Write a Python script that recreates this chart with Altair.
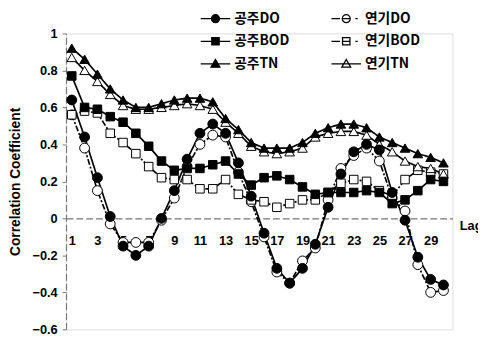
import altair as alt
import pandas as pd

lags = list(range(1, 31))

gongju_do = [0.64, 0.44, 0.22, 0.01, -0.15, -0.20, -0.15, 0.00, 0.15, 0.32,
             0.46, 0.51, 0.46, 0.30, 0.12, -0.08, -0.27, -0.35, -0.27, -0.14,
             0.06, 0.24, 0.36, 0.40, 0.37, 0.14, -0.01, -0.21, -0.33, -0.36]
yeongi_do = [0.56, 0.38, 0.15, -0.03, -0.13, -0.13, -0.13, -0.01, 0.11, 0.28,
             0.40, 0.45, 0.44, 0.25, 0.09, -0.10, -0.29, -0.35, -0.23, -0.16,
             0.10, 0.27, 0.34, 0.38, 0.31, 0.11, 0.04, -0.25, -0.40, -0.39]
gongju_bod = [0.77, 0.60, 0.59, 0.55, 0.52, 0.46, 0.39, 0.31, 0.26, 0.27,
              0.27, 0.29, 0.31, 0.24, 0.18, 0.22, 0.23, 0.21, 0.17, 0.13,
              0.14, 0.14, 0.14, 0.15, 0.14, 0.08, 0.10, 0.15, 0.21, 0.20]
yeongi_bod = [0.56, 0.58, 0.57, 0.46, 0.41, 0.35, 0.28, 0.22, 0.21, 0.21,
              0.16, 0.16, 0.21, 0.13, 0.10, 0.09, 0.06, 0.08, 0.10, 0.10,
              0.14, 0.19, 0.21, 0.20, 0.15, 0.12, 0.21, 0.26, 0.25, 0.24]
gongju_tn = [0.92, 0.86, 0.78, 0.70, 0.64, 0.60, 0.60, 0.62, 0.64, 0.65,
             0.65, 0.63, 0.54, 0.48, 0.41, 0.38, 0.38, 0.38, 0.41, 0.46,
             0.49, 0.51, 0.51, 0.49, 0.44, 0.41, 0.38, 0.35, 0.33, 0.30]
yeongi_tn = [0.87, 0.80, 0.74, 0.67, 0.61, 0.59, 0.59, 0.60, 0.61, 0.62,
             0.61, 0.59, 0.52, 0.46, 0.39, 0.36, 0.35, 0.36, 0.38, 0.44,
             0.46, 0.47, 0.47, 0.45, 0.40, 0.36, 0.31, 0.28, 0.27, 0.24]

# legend order (column-major: left column 공주, right column 연기)
series_names = ["공주DO", "공주BOD", "공주TN", "연기DO", "연기BOD", "연기TN"]
series_values = {
    "공주DO": gongju_do, "연기DO": yeongi_do,
    "공주BOD": gongju_bod, "연기BOD": yeongi_bod,
    "공주TN": gongju_tn, "연기TN": yeongi_tn,
}
draw_order = ["연기DO", "연기BOD", "연기TN", "공주DO", "공주BOD", "공주TN"]
x_ticks = list(range(1, 30, 2))
y_ticks = [1, 0.8, 0.6, 0.4, 0.2, 0, -0.2, -0.4, -0.6]

shape_range = ["circle", "square", "triangle-up", "circle", "square", "triangle-up"]
fill_range = ["black", "black", "black", "white", "white", "white"]
size_range = [100, 75, 95, 100, 75, 95]
dash_range = [[1, 0], [1, 0], [1, 0], [6, 2, 2, 2], [6, 2, 2, 2], [1, 0]]
width_range = [1.7, 1.7, 1.7, 1.0, 1.0, 1.0]

rows = []
for s in draw_order:
    for lag, v in zip(lags, series_values[s]):
        rows.append({"series": s, "lag": lag, "value": v})
df = pd.DataFrame(rows)

W, H = 393, 301
YMIN, YMAX = -0.6, 1.0
zero_offset = -H * (0 - YMIN) / (YMAX - YMIN)

LFONT = "Liberation Sans"
KFONT = "Noto Sans CJK KR"

x_axis = alt.Axis(values=x_ticks, title="Lag", offset=zero_offset,
                  grid=False, ticks=False, labelPadding=17, labelOverlap=False,
                  domainColor="#777", domainWidth=1.2, domainDash=[7, 3],
                  labelFont=LFONT, labelFontWeight="bold", labelFontSize=13,
                  labelColor="black",
                  titleX=W + 7, titleY=7, titleAlign="left",
                  titleBaseline="middle", titleFont=LFONT,
                  titleFontWeight="bold", titleFontSize=13, titleColor="black")
y_axis = alt.Axis(values=y_ticks, format=".1~f", labelOverlap=False,
                  title="Correlation Coefficient", grid=False,
                  tickSize=4, tickColor="#777", labelPadding=5,
                  domainColor="#777", domainWidth=1.2, domainDash=[7, 3],
                  labelFont=LFONT, labelFontWeight="bold", labelFontSize=13,
                  labelColor="black",
                  titleX=-51, titleY=H / 2, titleAngle=-90,
                  titleAlign="center", titleBaseline="middle",
                  titleFont=LFONT, titleFontWeight="bold",
                  titleFontSize=14, titleColor="black")
x_scale = alt.Scale(domain=[0.55, 30.7], nice=False, zero=False)
y_scale = alt.Scale(domain=[YMIN, YMAX], nice=False)


def xe():
    return alt.X("lag:Q", scale=x_scale, axis=x_axis)


def ye():
    return alt.Y("value:Q", scale=y_scale, axis=y_axis)


base = alt.Chart(df)

lines = base.mark_line(color="black").encode(
    x=xe(), y=ye(), detail="series:N",
    strokeDash=alt.StrokeDash("series:N", scale=alt.Scale(domain=series_names, range=dash_range), legend=None),
    strokeWidth=alt.StrokeWidth("series:N", scale=alt.Scale(domain=series_names, range=width_range), legend=None),
)

point_layers = []
for s in draw_order:
    i = series_names.index(s)
    point_layers.append(
        base.transform_filter(alt.datum.series == s).mark_point(
            shape=shape_range[i], fill=fill_range[i], size=size_range[i],
            stroke="black", strokeWidth=1, opacity=1, filled=False
        ).encode(x=xe(), y=ye())
    )

circ = "M 0.27 0 A 0.27 0.27 0 1 1 -0.27 0 A 0.27 0.27 0 1 1 0.27 0 Z"
sq = "M -0.25 -0.25 L 0.25 -0.25 L 0.25 0.25 L -0.25 0.25 Z"
tri = "M 0 -0.3 L 0.3 0.22 L -0.3 0.22 Z"
solid = "M -1 0 L 1 0 "
dashdot = "M -1 0 L -0.42 0 M -0.27 0 L 0.27 0 M 0.62 0 L 0.78 0 "
legend_paths = [solid + circ, solid + sq, solid + tri, dashdot + circ, dashdot + sq, solid + tri]
stroke_range = ["black"] * 6

leg = alt.Legend(orient="none", legendX=136, legendY=-31, columns=2,
                 title=None,
                 symbolSize=900, symbolStrokeWidth=1.3,
                 labelFont=KFONT, labelFontSize=14, labelFontWeight="bold",
                 labelColor="black", labelOffset=3, columnPadding=39, rowPadding=0)

legend_layer = base.transform_filter("false").mark_point(
    strokeWidth=1.3, opacity=1, size=900).encode(
    x=xe(), y=ye(),
    shape=alt.Shape("series:N", scale=alt.Scale(domain=series_names, range=legend_paths), legend=leg),
    fill=alt.Fill("series:N", scale=alt.Scale(domain=series_names, range=fill_range), legend=leg),
    stroke=alt.Stroke("series:N", scale=alt.Scale(domain=series_names, range=stroke_range), legend=leg),
)

chart = alt.layer(lines, *point_layers, legend_layer).resolve_scale(
    shape="independent", fill="independent", stroke="independent"
).properties(
    width=W, height=H,
    autosize=alt.AutoSizeParams(type="none"),
    padding={"left": 59, "top": 23, "right": 26, "bottom": 10},
).configure_view(stroke=None).configure_axis(labelOverlap=False).configure(background="white")

chart.save("out.html", embed_options={"renderer": "svg", "actions": False})
